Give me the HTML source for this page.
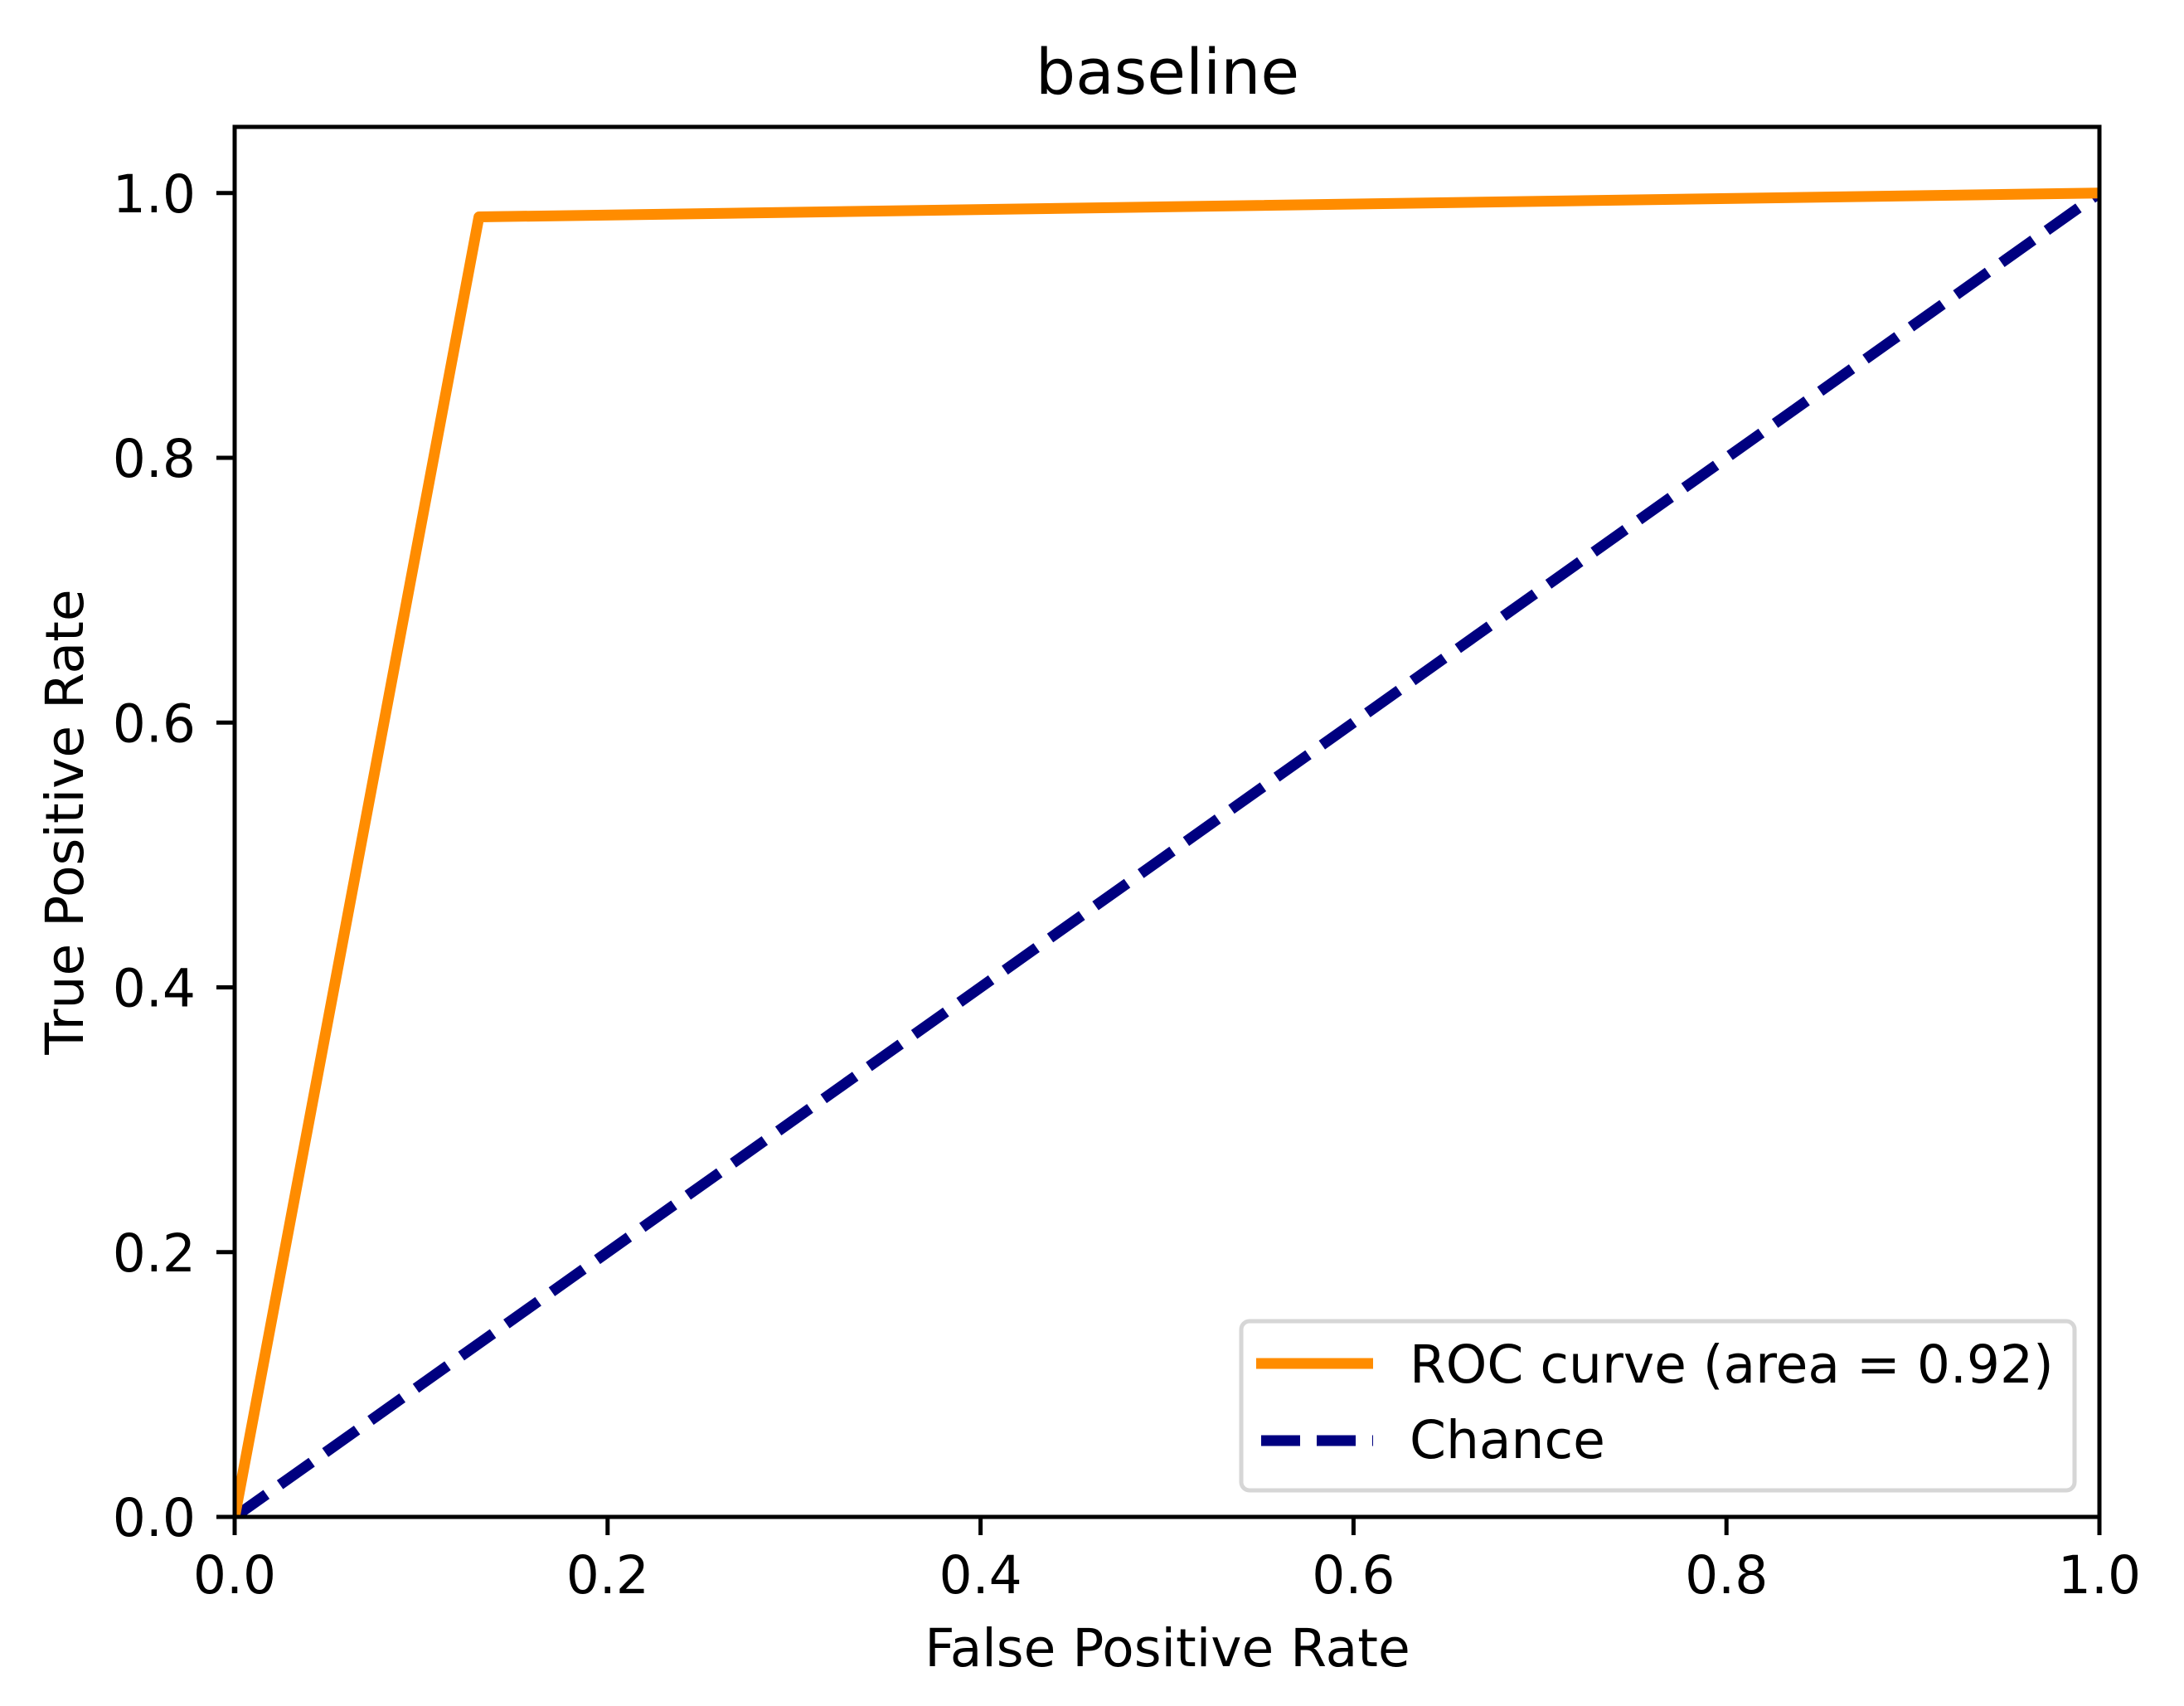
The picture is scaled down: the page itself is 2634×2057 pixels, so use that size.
<!DOCTYPE html>
<html><head><meta charset="utf-8">
<style>
html,body{margin:0;padding:0;background:#fff;}
svg{display:block;}
text{font-family:"DejaVu Sans","Liberation Sans",sans-serif;fill:#000;}
</style></head>
<body>
<svg id="chart" width="2634" height="2057" viewBox="0 0 2634 2057" xmlns="http://www.w3.org/2000/svg">
<rect width="2634" height="2057" fill="#fff"/>
<text x="1408" y="113" font-size="76" text-anchor="middle">baseline</text>
<g id="series"></g>
<g id="axes"></g>
<text x="1408" y="2009" font-size="63" text-anchor="middle">False Positive Rate</text>
<text transform="translate(100,991) rotate(-90)" font-size="63" text-anchor="middle">True Positive Rate</text>
<g>
  <rect x="1497" y="1593" width="1005" height="204" rx="10" fill="#fff" fill-opacity="0.8" stroke="#d6d6d6" stroke-width="5"/>
  <line x1="1515" y1="1644" x2="1656" y2="1644" stroke="#ff8c00" stroke-width="13"/>
  <text x="1700" y="1667" font-size="63">ROC curve (area = 0.92)</text>
  <line x1="1521" y1="1737" x2="1656" y2="1737" stroke="#000080" stroke-width="13" stroke-dasharray="47,20"/>
  <text x="1700" y="1758" font-size="63">Chance</text>
</g>
</svg>
<script>
const xTicks = [0, 0.2, 0.4, 0.6, 0.8, 1.0];
const yTicks = [0, 0.2, 0.4, 0.6, 0.8, 1.0];
const xTickLabels = ["0.0", "0.2", "0.4", "0.6", "0.8", "1.0"];
const yTickLabels = ["0.0", "0.2", "0.4", "0.6", "0.8", "1.0"];
const rocFpr = [0, 0.131, 1.0];
const rocTpr = [0, 0.982, 1.0];
const chanceX = [0, 1];
const chanceY = [0, 1];

const NS = "http://www.w3.org/2000/svg";
const L = 283, R = 2532, T = 153, B = 1829;
const xMin = 0, xMax = 1, yMin = 0, yMax = 1.05;
function sx(v){ return L + (v - xMin) / (xMax - xMin) * (R - L); }
function sy(v){ return B - (v - yMin) / (yMax - yMin) * (B - T); }
function mk(tag, attrs){ const e = document.createElementNS(NS, tag); for (const k in attrs) e.setAttribute(k, attrs[k]); return e; }

const series = document.getElementById('series');
const axes = document.getElementById('axes');

const clip = mk('clipPath', {id:'plotclip'});
clip.appendChild(mk('rect', {x:L, y:T, width:R-L, height:B-T}));
series.appendChild(clip);

const chance = mk('polyline', {points: chanceX.map((x,i)=>sx(x)+','+sy(chanceY[i])).join(' '), fill:'none', stroke:'#000080', 'stroke-width':13, 'stroke-dasharray':'47,20', 'clip-path':'url(#plotclip)'});


series.appendChild(chance);

const roc = mk('polyline', {points: rocFpr.map((x,i)=>sx(x)+','+sy(rocTpr[i])).join(' '), fill:'none', stroke:'#ff8c00', 'stroke-width':13, 'stroke-linejoin':'round', 'clip-path':'url(#plotclip)'});


series.appendChild(roc);

const frame = mk('rect', {x:L, y:T, width:R-L, height:B-T, fill:'none', stroke:'#000', 'stroke-width':5});


axes.appendChild(frame);

xTicks.forEach((v,i)=>{
  const x = sx(v);
  const t = mk('line', {x1:x, y1:B, x2:x, y2:B+22, stroke:'#000', 'stroke-width':5});
  
  
  axes.appendChild(t);
  const lb = mk('text', {x:x, y:1921, 'font-size':63, 'text-anchor':'middle'});
  lb.textContent = xTickLabels[i];
  
  
  axes.appendChild(lb);
});
yTicks.forEach((v,i)=>{
  const y = sy(v);
  const t = mk('line', {x1:L-22, y1:y, x2:L, y2:y, stroke:'#000', 'stroke-width':5});
  
  
  axes.appendChild(t);
  const lb = mk('text', {x:236, y:y+23, 'font-size':63, 'text-anchor':'end'});
  lb.textContent = yTickLabels[i];
  
  
  axes.appendChild(lb);
});
</script>
</body></html>
